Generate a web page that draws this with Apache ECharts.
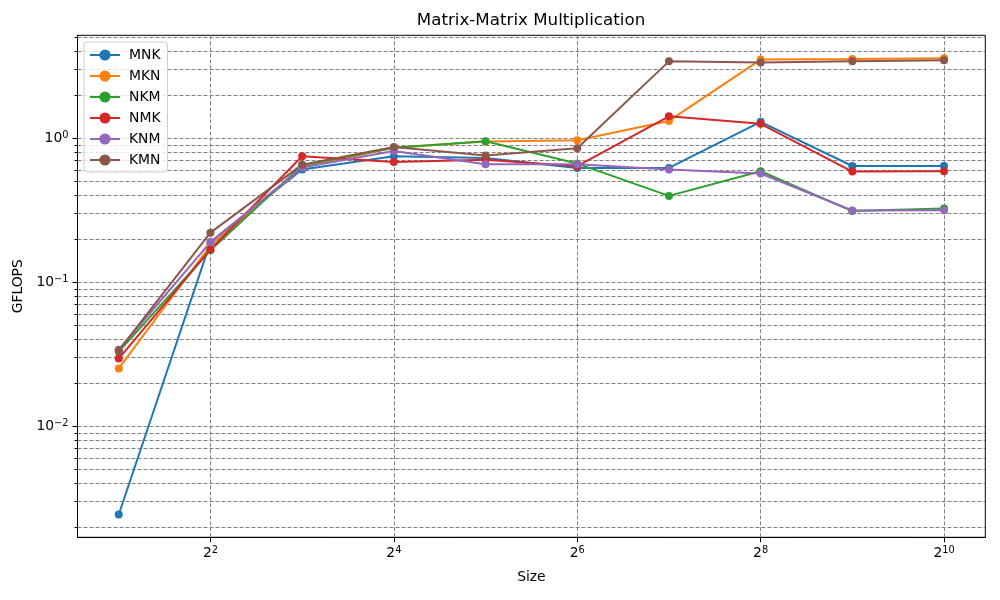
<!DOCTYPE html>
<html>
<head>
<meta charset="utf-8">
<script src="https://cdn.jsdelivr.net/npm/echarts@6/dist/echarts.min.js"></script>
<style>html,body{margin:0;padding:0;background:#fff}#c{width:1000px;height:600px}</style>
</head>
<body>
<div id="c"></div>
<script>
const sizes = [2, 4, 8, 16, 32, 64, 128, 256, 512, 1024];
const MNK = [0.00244, 0.19, 0.606, 0.75, 0.73, 0.622, 0.622, 1.30, 0.642, 0.642];
const MKN = [0.0252, 0.18, 0.63, 0.86, 0.95, 0.968, 1.32, 3.52, 3.55, 3.59];
const NKM = [0.033, 0.167, 0.65, 0.86, 0.953, 0.667, 0.398, 0.59, 0.312, 0.325];
const NMK = [0.0295, 0.169, 0.75, 0.685, 0.71, 0.64, 1.42, 1.26, 0.587, 0.59];
const KNM = [0.034, 0.19, 0.626, 0.816, 0.66, 0.66, 0.606, 0.569, 0.315, 0.316];
const KMN = [0.0336, 0.221, 0.656, 0.87, 0.758, 0.852, 3.42, 3.36, 3.42, 3.48];
const seriesNames = ['MNK', 'MKN', 'NKM', 'NMK', 'KNM', 'KMN'];
const seriesValues = [MNK, MKN, NKM, NMK, KNM, KMN];
const colors = ['#1f77b4', '#ff7f0e', '#2ca02c', '#d62728', '#9467bd', '#8c564b'];
const xTicks = [4, 16, 64, 256, 1024];
const yMajorTicks = [0.01, 0.1, 1];
const yAllTicks = [];
[0.001, 0.01, 0.1, 1].forEach(d => { for (let m = 1; m <= 9; m++) yAllTicks.push(+(d * m).toPrecision(3)); });

const FONT = 'DejaVu Sans';
const gridLine = { show: true, lineStyle: { color: '#808080', type: [4, 2], width: 1 } };
const supRich = {
  b: { fontFamily: FONT, fontSize: 13.9, color: '#000', lineHeight: 15, padding: [3, 0, 0, 0], verticalAlign: 'bottom' },
  s: { fontFamily: FONT, fontSize: 9.8, color: '#000', lineHeight: 10, verticalAlign: 'top' }
};

const chart = echarts.init(document.getElementById('c'), null, { renderer: 'canvas' });
chart.setOption({
  animation: false,
  backgroundColor: '#fff',
  title: {
    text: 'Matrix-Matrix Multiplication', left: 531, top: 12, padding: 0, textAlign: 'center',
    textStyle: { fontFamily: FONT, fontSize: 16.7, fontWeight: 'normal', color: '#000' }
  },
  legend: {
    orient: 'vertical', left: 84, top: 42, padding: [6, 7, 5, 5],
    itemWidth: 30, itemHeight: 14, itemGap: 7,
    backgroundColor: 'rgba(255,255,255,0.8)', borderColor: '#cccccc', borderWidth: 1, borderRadius: 3,
    textStyle: { fontFamily: FONT, fontSize: 13.9, color: '#000', padding: [0, 0, 0, 4] },
    data: seriesNames
  },
  grid: { left: 77.5, right: 14.7, top: 35.3, bottom: 62.7, show: true, borderColor: '#000', borderWidth: 1, backgroundColor: 'transparent' },
  xAxis: {
    type: 'log', logBase: 2, min: Math.pow(2, 0.55), max: Math.pow(2, 10.45),
    name: 'Size', nameLocation: 'middle', nameGap: 33,
    nameTextStyle: { fontFamily: FONT, fontSize: 13.9, color: '#000' },
    axisLine: { show: true, lineStyle: { color: '#000', width: 1 } },
    axisTick: { show: true, inside: false, length: 5, customValues: xTicks, lineStyle: { color: '#000' } },
    axisLabel: {
      customValues: xTicks, margin: 8,
      formatter: v => '{b|2}{s|' + Math.round(Math.log2(v)) + '}', rich: supRich
    },
    splitLine: gridLine, minorTick: { show: false }, minorSplitLine: { show: false }
  },
  yAxis: [{
    type: 'log', logBase: 10, min: Math.pow(10, -2.771), max: Math.pow(10, 0.715),
    name: 'GFLOPS', nameLocation: 'middle', nameGap: 47, nameRotate: 90,
    nameTextStyle: { fontFamily: FONT, fontSize: 13.9, color: '#000' },
    axisLine: { show: true, lineStyle: { color: '#000', width: 1 } },
    axisTick: { show: true, inside: false, length: 3, customValues: yAllTicks, lineStyle: { color: '#000' } },
    axisLabel: {
      customValues: yMajorTicks, margin: 9,
      formatter: v => { const e = Math.round(Math.log10(v)); return '{b|10}{s|' + (e < 0 ? '\u2212' + (-e) : e) + '}'; },
      rich: supRich
    },
    splitLine: gridLine, minorTick: { show: false }, minorSplitLine: { show: false }
  }, {
    type: 'log', logBase: 10, min: Math.pow(10, -2.771), max: Math.pow(10, 0.715), position: 'left',
    axisLine: { show: false },
    axisTick: { show: true, inside: false, length: 5, customValues: yMajorTicks, lineStyle: { color: '#000' } },
    axisLabel: { show: false }, splitLine: { show: false }
  }],
  series: seriesNames.map((n, i) => ({
    name: n, type: 'line', xAxisIndex: 0, yAxisIndex: 0,
    data: sizes.map((s, j) => [s, seriesValues[i][j]]),
    symbol: 'circle', symbolSize: 8, showSymbol: true,
    itemStyle: { color: colors[i] },
    lineStyle: { color: colors[i], width: 2 },
    emphasis: { disabled: true }
  }))
});
</script>
</body>
</html>
